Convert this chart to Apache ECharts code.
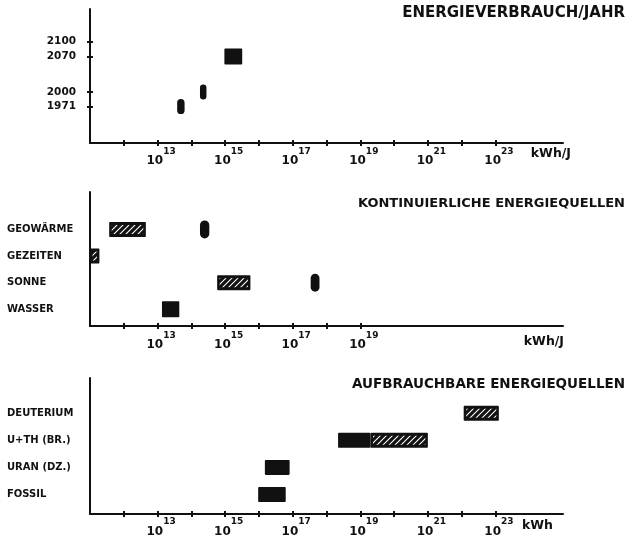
<!DOCTYPE html>
<html><head><meta charset="utf-8">
<script src="https://cdn.jsdelivr.net/npm/echarts@6/dist/echarts.min.js"></script>
<style>html,body{margin:0;padding:0;background:#fff}#c{width:636px;height:538px}</style>
</head><body><div id="c"></div>
<script>
// ---------------- Data ----------------
// Panel 1: Energieverbrauch / Jahr  [year, low kWh/J, high kWh/J]
const yearTicks = [1971, 2000, 2070, 2100];
const usageRound = [[1971, 3.8e13, 6.3e13], [2000, 1.8e14, 2.8e14]];
const usageSolid = [[2070, 9.5e14, 3.2e15]];

// Panel 2: Kontinuierliche Energiequellen  [source, low kWh/J, high kWh/J]
const continuousSources = ['WASSER', 'SONNE', 'GEZEITEN', 'GEOWÄRME']; // bottom -> top
const continuousHatched = [['GEOWÄRME', 3.7e11, 4.5e12], ['GEZEITEN', 1.0e11, 1.9e11], ['SONNE', 5.8e14, 5.6e15]];
const continuousSolid = [['WASSER', 1.35e13, 4.4e13]];
const continuousRound = [['GEOWÄRME', 1.8e14, 3.4e14], ['SONNE', 3.4e17, 6.2e17]];

// Panel 3: Aufbrauchbare Energiequellen  [source, low kWh, high kWh]
const depletableSources = ['FOSSIL', 'URAN (DZ.)', 'U+TH (BR.)', 'DEUTERIUM']; // bottom -> top
const depletableSolid = [['FOSSIL', 9.5e15, 6.2e16], ['URAN (DZ.)', 1.5e16, 8.1e16], ['U+TH (BR.)', 2.2e18, 2.0e19]];
const depletableHatched = [['U+TH (BR.)', 2.0e19, 1.0e21], ['DEUTERIUM', 1.15e22, 1.26e23]];

// Axis ticks / labels
const xTicksLong = [1e12, 1e13, 1e14, 1e15, 1e16, 1e17, 1e18, 1e19, 1e20, 1e21, 1e22, 1e23];
const xLabelsLong = [1e13, 1e15, 1e17, 1e19, 1e21, 1e23];
const xTicksShort = [1e12, 1e13, 1e14, 1e15, 1e16, 1e17, 1e18, 1e19];
const xLabelsShort = [1e13, 1e15, 1e17, 1e19];
const panelTitles = ['ENERGIEVERBRAUCH/JAHR', 'KONTINUIERLICHE ENERGIEQUELLEN', 'AUFBRAUCHBARE ENERGIEQUELLEN'];
const xUnits = ['kWh/J', 'kWh/J', 'kWh'];

// ---------------- Chart ----------------
const INK = '#111';
const FONT = 'DejaVu Sans';

const hatchCanvas = document.createElement('canvas');
hatchCanvas.width = 6; hatchCanvas.height = 6;
(function () {
  const g = hatchCanvas.getContext('2d');
  g.fillStyle = INK; g.fillRect(0, 0, 6, 6);
  g.strokeStyle = '#fff'; g.lineWidth = 1.1;
  g.beginPath();
  g.moveTo(-1, 7); g.lineTo(7, -1);
  g.moveTo(-1, 1); g.lineTo(1, -1);
  g.moveTo(5, 7); g.lineTo(7, 5);
  g.stroke();
})();
const hatchPattern = { image: hatchCanvas, repeat: 'repeat' };

function makeRender(kind, h) {
  return function (params, api) {
    const yv = api.value(2);
    const a = api.coord([api.value(0), yv]);
    const b = api.coord([api.value(1), yv]);
    const x0 = a[0], w = b[0] - a[0], y0 = a[1] - h / 2;
    if (kind === 'hatch') {
      return { type: 'group', children: [
        { type: 'rect', shape: { x: x0, y: y0, width: w, height: h, r: 0.8 }, style: { fill: INK } },
        { type: 'rect', shape: { x: x0 + 2.5, y: y0 + 3, width: Math.max(w - 5, 0), height: h - 6 }, style: { fill: hatchPattern } }
      ]};
    }
    return { type: 'rect', shape: { x: x0, y: y0, width: w, height: h, r: kind === 'round' ? Math.min(w, h) / 2 : 0.8 }, style: { fill: INK } };
  };
}

function rows(list, names) {
  return list.map(d => [d[1], d[2], names.indexOf(d[0])]);
}
function yearRows(list) { return list.map(d => [d[1], d[2], d[0]]); }

function series(gi, kind, h, data) {
  return { type: 'custom', xAxisIndex: gi, yAxisIndex: gi, renderItem: makeRender(kind, h),
    encode: { x: [0, 1], y: 2 }, data: data, silent: true, z: 1 };
}

const grids = [
  { left: 90, right: 73, top: 9, height: 134, outerBoundsMode: 'none', containLabel: false },
  { left: 90, right: 73, top: 192, height: 134, outerBoundsMode: 'none', containLabel: false },
  { left: 90, right: 73, top: 378, height: 136, outerBoundsMode: 'none', containLabel: false }
];

const labelMargins = [4, 5, 3.5];
const namePads = [4, 9, 5];
const nameGaps = [8, 1, -10];

const xAxes = [], yAxes = [];
grids.forEach((g, i) => {
  const ticks = i === 1 ? xTicksShort : xTicksLong;
  const labels = i === 1 ? xLabelsShort : xLabelsLong;
  xAxes.push({
    type: 'log', logBase: 10, gridIndex: i, min: 1e11, max: 1e25,
    axisLine: { show: true, onZero: false, lineStyle: { color: INK, width: 2 } },
    axisTick: { show: true, inside: false, length: 3, customValues: ticks, lineStyle: { color: INK, width: 2 } },
    axisLabel: {
      customValues: labels, margin: labelMargins[i], padding: [0, 0, 0, 7],
      formatter: v => '{b|10}{s|' + Math.round(Math.log10(v)) + '}',
      rich: {
        b: { fontFamily: FONT, fontSize: 12, fontWeight: 'bold', color: INK, lineHeight: 20, verticalAlign: 'bottom' },
        s: { fontFamily: FONT, fontSize: 9, fontWeight: 'bold', color: INK, lineHeight: 14, verticalAlign: 'top' }
      }
    },
    splitLine: { show: false }, minorTick: { show: false },
    name: xUnits[i], nameLocation: 'end', nameGap: nameGaps[i],
    nameTextStyle: { fontFamily: FONT, fontSize: 12.5, fontWeight: 'bold', color: INK, align: 'right', verticalAlign: 'top', padding: [namePads[i], 0, 0, 0] }
  });
});

// Panel 1 y axis (years)
yAxes.push({
  type: 'value', gridIndex: 0, min: 1899, max: 2164,
  axisLine: { show: true, onZero: false, lineStyle: { color: INK, width: 2 } },
  axisTick: { show: true, length: 3, customValues: yearTicks, lineStyle: { color: INK, width: 2 } },
  axisLabel: { customValues: yearTicks, formatter: v => String(v), margin: 14, fontFamily: FONT, fontSize: 10.5, fontWeight: 'bold', color: INK },
  splitLine: { show: false }
});
// Panel 2 & 3 y axes (sources)
[[continuousSources, -0.63, 4.41, 1], [depletableSources, -0.72, 4.30, 2]].forEach(([names, mn, mx, gi]) => {
  yAxes.push({
    type: 'value', gridIndex: gi, min: mn, max: mx,
    axisLine: { show: true, onZero: false, lineStyle: { color: INK, width: 2 } },
    axisTick: { show: false },
    axisLabel: { customValues: names.map((_, k) => k), formatter: v => names[Math.round(v)],
      align: 'left', margin: 83, fontFamily: FONT, fontSize: 10, fontWeight: 'bold', color: INK },
    splitLine: { show: false }
  });
});

// Overlay grids for inner halves of cross-shaped ticks
[0, 1, 2].forEach(i => { grids.push(Object.assign({}, grids[i])); });
[0, 1, 2].forEach(i => {
  const ticks = i === 1 ? xTicksShort : xTicksLong;
  xAxes.push({
    type: 'log', logBase: 10, gridIndex: 3 + i, min: 1e11, max: 1e25,
    axisLine: { show: false, onZero: false }, axisLabel: { show: false }, splitLine: { show: false },
    axisTick: { show: true, inside: true, length: 3, customValues: ticks, lineStyle: { color: INK, width: 2 } }
  });
  yAxes.push({
    type: 'value', gridIndex: 3 + i, min: yAxes[i].min, max: yAxes[i].max,
    axisLine: { show: false, onZero: false }, axisLabel: { show: false }, splitLine: { show: false },
    axisTick: i === 0 ? { show: true, inside: true, length: 3, customValues: yearTicks, lineStyle: { color: INK, width: 2 } } : { show: false }
  });
});

const option = {
  backgroundColor: '#fff',
  animation: false,
  title: [
    { text: panelTitles[0], right: 11, top: 6, padding: 0, textStyle: { fontFamily: FONT, fontSize: 15, fontWeight: 'bold', color: INK } },
    { text: panelTitles[1], right: 11, top: 197, padding: 0, textStyle: { fontFamily: FONT, fontSize: 13, fontWeight: 'bold', color: INK } },
    { text: panelTitles[2], right: 11, top: 377, padding: 0, textStyle: { fontFamily: FONT, fontSize: 13.5, fontWeight: 'bold', color: INK } }
  ],
  grid: grids,
  xAxis: xAxes,
  yAxis: yAxes,
  series: [
    series(0, 'round', 15, yearRows(usageRound)),
    series(0, 'solid', 16, yearRows(usageSolid)),
    series(1, 'hatch', 15, rows(continuousHatched, continuousSources)),
    series(1, 'solid', 16, rows(continuousSolid, continuousSources)),
    series(1, 'round', 18, rows(continuousRound, continuousSources)),
    series(2, 'solid', 15, rows(depletableSolid, depletableSources)),
    series(2, 'hatch', 15, rows(depletableHatched, depletableSources))
  ]
};

const chart = echarts.init(document.getElementById('c'), null, { renderer: 'canvas' });
chart.setOption(option);
</script>
</body></html>
